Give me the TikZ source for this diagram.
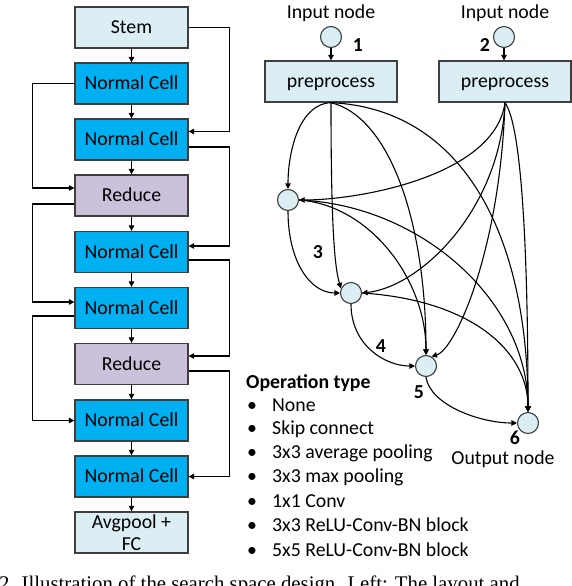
\documentclass[tikz,border=0pt]{standalone}
\usepackage{fontspec}
\setmainfont{Carlito}
\newfontfamily\capfont{Liberation Serif}
\usetikzlibrary{arrows.meta}

\definecolor{stemblue}{HTML}{DAEEF3}
\definecolor{cellblue}{HTML}{00B0F0}
\definecolor{reducepurple}{HTML}{CCC1DA}
\definecolor{boxline}{HTML}{3F3F3F}

\tikzset{
  cellbox/.style={draw=boxline, line width=1.3pt, minimum width=113pt, minimum height=41pt, inner sep=0pt, align=center, font=\fontsize{19.8}{22}\selectfont},
  oneline/.style={text height=16pt, text depth=3.5pt},
  stembox/.style={cellbox, fill=stemblue},
  normalbox/.style={cellbox, oneline, fill=cellblue},
  reducebox/.style={cellbox, oneline, fill=reducepurple},
  prebox/.style={cellbox, oneline, fill=stemblue, minimum width=132pt},
  opnode/.style={circle, draw=boxline, line width=1.1pt, fill=stemblue, minimum size=21pt, inner sep=0pt},
  arr/.style={line width=1.1pt, -{Triangle[length=5.5pt,width=5.5pt]}},
  lbl/.style={inner sep=0pt, font=\fontsize{19.8}{22}\selectfont},
  numlbl/.style={inner sep=0pt, font=\fontsize{19.8}{22}\selectfont\bfseries},
}

\begin{document}
\begin{tikzpicture}[x=1pt,y=-1pt]
	\useasboundingbox (0,0) rectangle (572,586);
	\clip (0,0) rectangle (572,586);
	% left: network layout
	\node[stembox, oneline] (stem) at (131.5,27.5) {Stem};
	\node[normalbox] (nc1) at (131.5,83.5) {Normal Cell};
	\node[normalbox] (nc2) at (131.5,139.5) {Normal Cell};
	\node[reducebox] (red1) at (131.5,195.5) {Reduce};
	\node[normalbox] (nc3) at (131.5,252) {Normal Cell};
	\node[normalbox] (nc4) at (131.5,308) {Normal Cell};
	\node[reducebox] (red2) at (131.5,364) {Reduce};
	\node[normalbox] (nc5) at (131.5,420.5) {Normal Cell};
	\node[normalbox] (nc6) at (131.5,476.5) {Normal Cell};
	\node[stembox] (pool) at (131.5,532.5) {Avgpool +\\FC};
	\draw[arr] (stem) -- (nc1);
	\draw[arr] (nc1) -- (nc2);
	\draw[arr] (nc2) -- (red1);
	\draw[arr] (red1) -- (nc3);
	\draw[arr] (nc3) -- (nc4);
	\draw[arr] (nc4) -- (red2);
	\draw[arr] (red2) -- (nc5);
	\draw[arr] (nc5) -- (nc6);
	\draw[arr] (nc6) -- (pool);
	% skip inputs
	\draw[arr] (stem.east) -- ++(41,0) |- ([yshift=8pt]nc2.east);
	\draw[arr] (nc1.west) -- ++(-42,0) |- ([yshift=7.5pt]red1.west);
	\draw[arr] ([yshift=-7.5pt]nc2.east) -- ++(41,0) |- ([yshift=6pt]nc3.east);
	\draw[arr] ([yshift=-8.5pt]red1.west) -- ++(-42,0) |- ([yshift=6pt]nc4.west);
	\draw[arr] ([yshift=-8pt]nc3.east) -- ++(41,0) |- ([yshift=8pt]red2.east);
	\draw[arr] ([yshift=-8pt]nc4.west) -- ++(-42,0) |- (nc5.west);
	\draw[arr] ([yshift=-7pt]red2.east) -- ++(41,0) |- (nc6.east);
	% right: cell structure
	\node[lbl] (in1lbl) at (331,13) {Input node};
	\node[lbl] (in2lbl) at (505,13) {Input node};
	\node[opnode] (in1) at (331,37) {};
	\node[opnode] (in2) at (504,37) {};
	\node[numlbl] at (358,45) {1};
	\node[numlbl] at (485,45) {2};
	\node[prebox] (p1) at (331,81.5) {preprocess};
	\node[prebox] (p2) at (505,81.5) {preprocess};
	\draw[arr] (in1) -- (p1);
	\draw[arr] (in2) -- (in2 |- p2.north);
	\node[opnode] (n3) at (288,200) {};
	\node[opnode] (n4) at (351,293) {};
	\node[opnode] (n5) at (426,366) {};
	\node[opnode] (n6) at (528,423) {};
	\draw[arr] (p1.south) .. controls +(-31,1) and +(0,-39) .. (n3.north);
	\draw[arr] (p1.south) .. controls +(0,130) and +(-6,-20) .. (n4.155);
	\draw[arr] (p1.south) .. controls +(60,15) and +(0,-130) .. (n5.north);
	\draw[arr] (p1.south) .. controls +(129,6) and +(0,-182) .. (n6.north);
	\draw[arr] (p2.south) .. controls +(-10,73) and +(61,0) .. (n3.east);
	\draw[arr] (p2.south) .. controls +(-5,108) and +(58,-6) .. (n4.east);
	\draw[arr] (p2.south) .. controls +(-5,148) and +(24,-7) .. (n5.60);
	\draw[arr] (p2.south) .. controls +(20,28) and +(0,-112) .. (n6.north);
	\draw[arr] (n3.south) .. controls +(0,50) and +(-30,0) .. (n4.west);
	\draw[arr] (n3.east) .. controls +(71,5) and +(0,-75) .. (n5.north);
	\draw[arr] (n3.east) .. controls +(121,5) and +(0,-112) .. (n6.north);
	\draw[arr] (n4.south) .. controls +(0,41) and +(-30,0) .. (n5.west);
	\draw[arr] (n4.east) .. controls +(108,7) and +(0,-62) .. (n6.north);
	\draw[arr] (n5.south) .. controls +(4,28) and +(-37,0) .. (n6.west);
	\node[numlbl] at (318,252) {3};
	\node[numlbl] at (381,346) {4};
	\node[numlbl] at (419,392) {5};
	\node[numlbl] at (515,438) {6};
	\node[lbl] (outlbl) at (503,459) {Output node};
	% operation types
	\node[lbl, anchor=west, font=\fontsize{19.8}{22}\selectfont\bfseries] (optitle) at (246,383) {Operation type};
	\node[lbl, anchor=west] (op1) at (247,405) {\makebox[25pt][l]{\textbullet}None};
	\node[lbl, anchor=west] (op2) at (247,429) {\makebox[25pt][l]{\textbullet}Skip connect};
	\node[lbl, anchor=west] (op3) at (247,453) {\makebox[25pt][l]{\textbullet}3x3 average pooling};
	\node[lbl, anchor=west] (op4) at (247,477) {\makebox[25pt][l]{\textbullet}3x3 max pooling};
	\node[lbl, anchor=west] (op5) at (247,501) {\makebox[25pt][l]{\textbullet}1x1 Conv};
	\node[lbl, anchor=west] (op6) at (247,525) {\makebox[25pt][l]{\textbullet}3x3 ReLU-Conv-BN block};
	\node[lbl, anchor=west] (op7) at (247,550) {\makebox[25pt][l]{\textbullet}5x5 ReLU-Conv-BN block};
	% caption (cut off)
	\node[anchor=north west, inner sep=0pt, font=\capfont\fontsize{20.8}{24}\selectfont] (caption) at (-1,576) {2. Illustration of the search space design. Left: The layout and};
\end{tikzpicture}
\end{document}
